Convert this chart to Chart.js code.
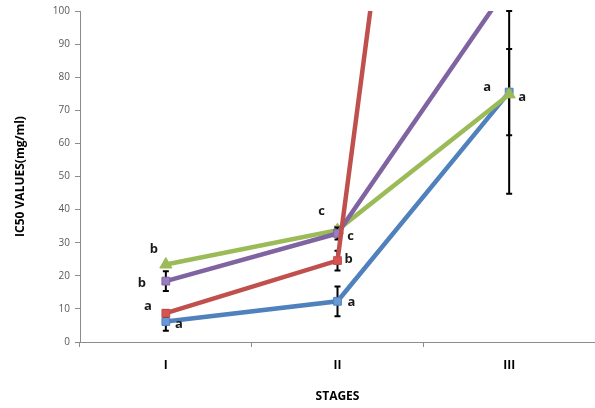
<!DOCTYPE html>
<html>
<head>
<meta charset="utf-8">
<script src="https://cdn.jsdelivr.net/npm/chart.js"></script>
<style>
  html, body { margin: 0; padding: 0; overflow: hidden; background: #fff; }
</style>
</head>
<body>
<canvas id="chart" width="595" height="408"></canvas>
<script>
// data
const stages = ['I', 'II', 'III'];

const blueValues = [6.2, 12.3, 75.5];
const redValues = [8.7, 24.6, 420];
const purpleValues = [18.4, 32.8, 108];
const greenValues = [23.4, 33.8, 74.8];

const blueErr = [2.8, 4.5, 13];
const redErr = [1, 3, null];
const purpleErr = [3, 1.8, null];
const greenErr = [null, 1, 30];

const blueLetters = ['a', 'a', 'a'];
const redLetters = ['a', 'b', null];
const purpleLetters = ['b', 'c', null];
const greenLetters = ['b', 'c', 'a'];

// where each letter sits relative to its point (px)
const letterOffsets = {
    blue: [[13, 3], [14, 1], [-22, -5]],
    red: [[-18, -7], [11, -1], null],
    purple: [[-24, 2], [13, 3], null],
    green: [[-12, -15], [-16, -19], [13, 3]]
};

const fontFamily = '"Open Sans", "Liberation Sans", Arial, sans-serif';

// error bars, drawn just before each dataset so markers sit on top
const errorBars = {
    id: 'errorBars',
    beforeDatasetDraw(chart, args) {
        const ds = chart.data.datasets[args.index];
        if (!ds.errors) return;
        const ctx = chart.ctx;
        const y = chart.scales.y;
        const area = chart.chartArea;
        const meta = args.meta;
        ctx.save();
        ctx.strokeStyle = '#000';
        ctx.lineWidth = 2;
        ds.errors.forEach((e, i) => {
            if (e == null) return;
            const pt = meta.data[i];
            const top = Math.max(y.getPixelForValue(ds.data[i] + e), area.top);
            const bot = Math.min(y.getPixelForValue(ds.data[i] - e), area.bottom);
            ctx.beginPath();
            ctx.moveTo(pt.x, top);
            ctx.lineTo(pt.x, bot);
            ctx.moveTo(pt.x - 3, top);
            ctx.lineTo(pt.x + 3, top);
            ctx.moveTo(pt.x - 3, bot);
            ctx.lineTo(pt.x + 3, bot);
            ctx.stroke();
        });
        ctx.restore();
    }
};

// significance letters
const letterLabels = {
    id: 'letterLabels',
    afterDatasetsDraw(chart) {
        const ctx = chart.ctx;
        ctx.save();
        ctx.font = 'bold 13px ' + fontFamily;
        ctx.fillStyle = '#1a1a1a';
        ctx.textAlign = 'center';
        ctx.textBaseline = 'middle';
        chart.data.datasets.forEach((ds, di) => {
            const meta = chart.getDatasetMeta(di);
            const offs = letterOffsets[ds.key];
            ds.letters.forEach((l, i) => {
                if (!l || !offs[i]) return;
                const pt = meta.data[i];
                ctx.fillText(l, pt.x + offs[i][0], pt.y + offs[i][1]);
            });
        });
        ctx.restore();
    }
};

function series(key, label, values, errors, letters, color, fill, style, radius) {
    return {
        key: key,
        label: label,
        data: values,
        errors: errors,
        letters: letters,
        borderColor: color,
        borderWidth: 4.5,
        pointStyle: style,
        pointRadius: radius,
        pointBackgroundColor: fill,
        pointBorderColor: color,
        pointBorderWidth: 1,
        tension: 0,
        clip: 0
    };
}

const axisGrey = '#8c8c8c';

new Chart(document.getElementById('chart'), {
    type: 'line',
    data: {
        labels: stages,
        datasets: [
            series('red', 'Red', redValues, redErr, redLetters, '#c0504d', '#d9534f', 'rect', 5.5),
            series('purple', 'Purple', purpleValues, purpleErr, purpleLetters, '#8064a2', '#9a7fc0', 'rect', 5.5),
            series('green', 'Green', greenValues, greenErr, greenLetters, '#9bbb59', '#9bbb59', 'triangle', 7),
            series('blue', 'Blue', blueValues, blueErr, blueLetters, '#4f81bd', '#6a9ad6', 'rect', 5.5)
        ]
    },
    options: {
        responsive: false,
        animation: false,
        layout: { autoPadding: false, padding: { top: 11, right: 0, bottom: 0, left: 0 } },
        plugins: {
            legend: { display: false },
            tooltip: { enabled: false }
        },
        scales: {
            x: {
                offset: true,
                grid: { display: true, drawOnChartArea: false, tickLength: 5, color: axisGrey, offset: true },
                border: { color: axisGrey },
                ticks: {
                    color: '#000',
                    padding: 11,
                    font: { family: fontFamily, size: 12, weight: 'bold' }
                },
                title: {
                    display: true,
                    text: 'STAGES',
                    color: '#000',
                    padding: { top: 0, bottom: 4 },
                    font: { family: fontFamily, size: 12, weight: 'bold' }
                },
                afterFit(scale) { scale.height = 66; }
            },
            y: {
                min: 0,
                max: 100,
                grid: { display: true, drawOnChartArea: false, tickLength: 5, color: axisGrey },
                border: { color: axisGrey },
                ticks: {
                    stepSize: 10,
                    color: '#595959',
                    padding: 5,
                    font: { family: fontFamily, size: 10 }
                },
                title: {
                    display: true,
                    text: 'IC50 VALUES(mg/ml)',
                    color: '#000',
                    padding: { top: 13, bottom: 0 },
                    font: { family: fontFamily, size: 12, weight: 'bold' }
                },
                afterFit(scale) { scale.width = 80; }
            }
        }
    },
    plugins: [errorBars, letterLabels]
});
</script>
</body>
</html>
